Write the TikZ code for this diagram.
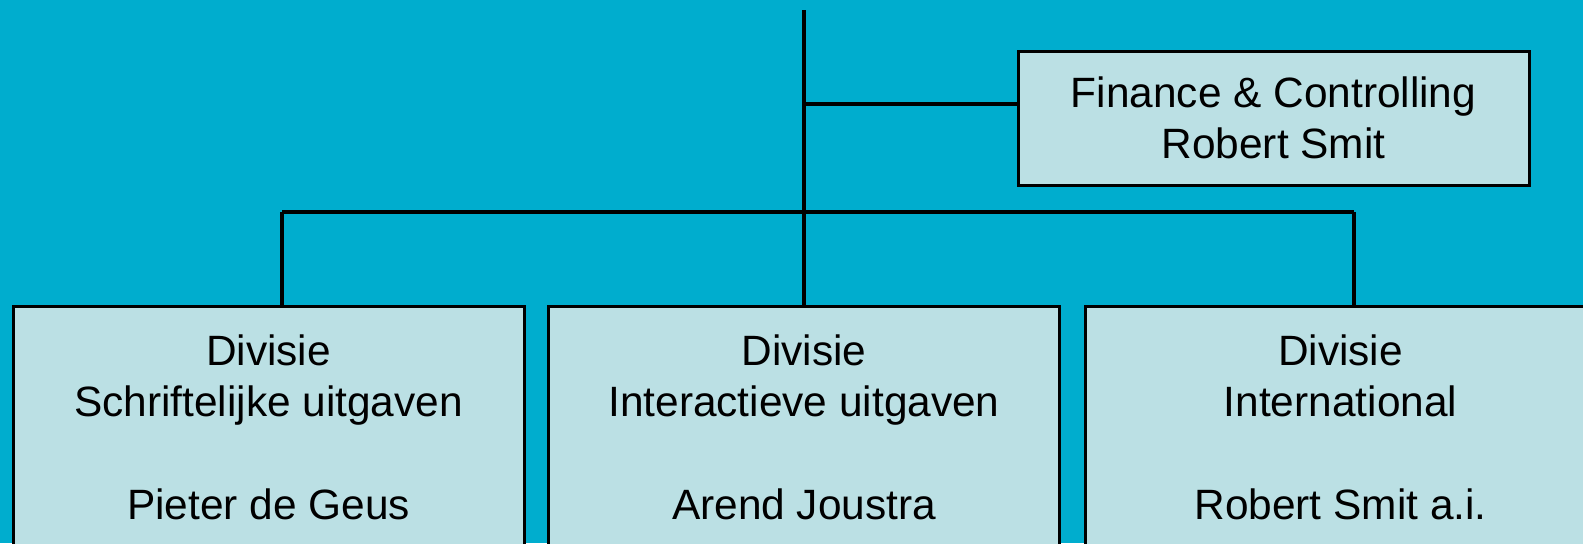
\documentclass[tikz,border=0pt]{standalone}
\usepackage{fontspec}
\setmainfont{Liberation Sans}
\usetikzlibrary{positioning}
\definecolor{bgblue}{RGB}{0,173,206}
\definecolor{boxblue}{RGB}{187,224,228}
\tikzset{
BOX/.style ={draw=black,fill=boxblue,line width=1.5pt,minimum width=255.5pt,align=center,font=\fontsize{21.2pt}{25.5pt}\selectfont},
DIV/.style ={BOX,anchor=north,inner ysep=14pt,text depth=40pt},
LINK/.style ={draw=black,line cap=butt,line width=1.65pt},
}

\begin{document}
\begin{tikzpicture} %organigram
[x=0.5pt, y=-0.5pt]
	\useasboundingbox[fill=bgblue] (0,0) rectangle (1583,543);
	\clip (0,0) rectangle (1583,543);
	\node[BOX, minimum height=67pt] (fin) at (1273.5,118) {Finance \& Controlling\\Robert Smit};
	\node[DIV] (div1) at (268.5,305) {Divisie\\Schriftelijke uitgaven\\[26pt]Pieter de Geus};
	\node[DIV] (div2) at (804,305) {Divisie\\Interactieve uitgaven\\[26pt]Arend Joustra};
	\node[DIV] (div3) at (1340.5,305) {Divisie\\International\\[26pt]Robert Smit a.i.};
	\coordinate (top) at (804,10);
	\coordinate (jfin) at (804,104);
	\coordinate (barL) at (282,212);
	\coordinate (barR) at (1354,212);
	\path[LINK] (top) -- (top |- div2.north);
	\path[LINK] (jfin) -- (jfin -| fin.west);
	\path[LINK] (barL) -- (barR);
	\path[LINK] (barL) -- (barL |- div1.north);
	\path[LINK] (barR) -- (barR |- div3.north);
\end{tikzpicture}
\end{document}
